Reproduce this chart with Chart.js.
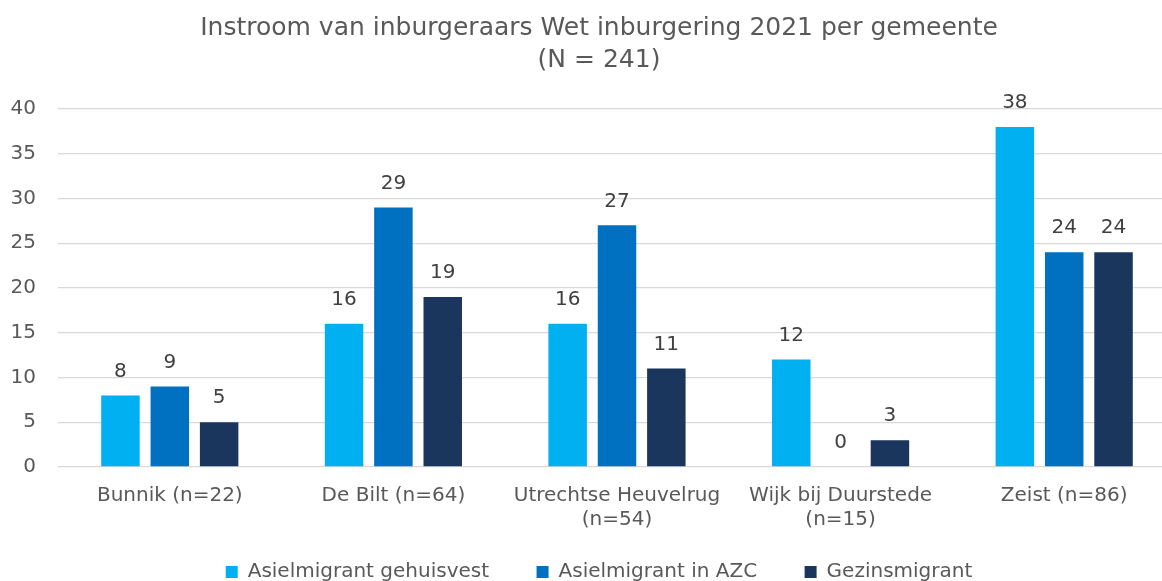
<!DOCTYPE html>
<html>
<head>
<meta charset="utf-8">
<script src="https://cdn.jsdelivr.net/npm/chart.js@4/dist/chart.umd.min.js"></script>
<style>
  html, body { margin: 0; padding: 0; background: #fff; }
  #wrap { width: 1162px; height: 581px; }
</style>
</head>
<body>
<div id="wrap"><canvas id="inburgeringChart"></canvas></div>
<script>
// Instroom inburgeraars per gemeente
var gemeenten = [
    "Bunnik (n=22)",
    "De Bilt (n=64)",
    ["Utrechtse Heuvelrug", "(n=54)"],
    ["Wijk bij Duurstede", "(n=15)"],
    "Zeist (n=86)"
];
var gehuisvest = [8, 16, 16, 12, 38];
var inAzc = [9, 29, 27, 0, 24];
var gezins = [5, 19, 11, 3, 24];
var yTicks = [0, 5, 10, 15, 20, 25, 30, 35, 40];

var fontFam = "Verdana, 'DejaVu Sans', sans-serif";

// values above the bars
var valueLabels = {
    id: 'valueLabels',
    afterDatasetsDraw: function(chart) {
        var ctx = chart.ctx;
        ctx.save();
        ctx.font = '20px ' + fontFam;
        ctx.fillStyle = '#404040';
        ctx.textAlign = 'center';
        ctx.textBaseline = 'bottom';
        chart.data.datasets.forEach(function(ds, i) {
            chart.getDatasetMeta(i).data.forEach(function(bar, j) {
                ctx.fillText(ds.data[j], bar.x, bar.y - 14);
            });
        });
        ctx.restore();
    }
};

// original plot runs a bit past the right edge, and its legend sits lower
var layoutTweak = {
    id: 'layoutTweak',
    afterLayout: function(chart) {
        var plotRight = 1176;
        var x = chart.scales.x;
        x.right = plotRight;
        x.width = x.right - x.left;
        x.configure();
        chart.chartArea.right = plotRight;
        chart.chartArea.width = plotRight - chart.chartArea.left;
        if (chart.legend) {
            chart.legend.top += 18;
            chart.legend.bottom += 18;
        }
    }
};

new Chart("inburgeringChart", {
    type: "bar",
    data: {
        labels: gemeenten,
        datasets: [{
            label: "Asielmigrant gehuisvest",
            data: gehuisvest,
            backgroundColor: "#00B0F0"
        }, {
            label: "Asielmigrant in AZC",
            data: inAzc,
            backgroundColor: "#0070C0"
        }, {
            label: "Gezinsmigrant",
            data: gezins,
            backgroundColor: "#1A365D"
        }]
    },
    options: {
        responsive: true,
        maintainAspectRatio: false,
        animation: false,
        categoryPercentage: 0.662,
        barPercentage: 0.78,
        layout: { padding: { left: 10, right: -26, top: 0, bottom: 7 } },
        plugins: {
            title: {
                display: true,
                text: ["Instroom van inburgeraars Wet inburgering 2021 per gemeente", "(N = 241)"],
                color: '#595959',
                font: { family: fontFam, size: 25, weight: 'normal', lineHeight: 1.28 },
                padding: { top: 12, bottom: 33 }
            },
            legend: {
                position: 'bottom',
                labels: {
                    color: '#595959',
                    font: { family: fontFam, size: 20 },
                    boxWidth: 12,
                    boxHeight: 12,
                    padding: 3,
                    generateLabels: function(chart) {
                        var items = Chart.defaults.plugins.legend.labels.generateLabels(chart);
                        items.forEach(function(it, k) {
                            it.lineWidth = 0;
                            if (k < items.length - 1) it.text = it.text + '       ';
                        });
                        return items;
                    }
                }
            },
            tooltip: { enabled: false }
        },
        scales: {
            x: {
                grid: { display: false },
                border: { display: false },
                ticks: {
                    color: '#595959',
                    font: { family: fontFam, size: 20 },
                    maxRotation: 0,
                    autoSkip: false,
                    padding: 9
                }
            },
            y: {
                min: 0,
                max: 40,
                afterBuildTicks: function(axis) {
                    axis.ticks = yTicks.map(function(v) { return { value: v }; });
                },
                afterFit: function(axis) {
                    axis.width = 48;
                },
                grid: { color: '#d9d9d9', lineWidth: 1.3, drawTicks: false },
                border: { display: false },
                ticks: {
                    color: '#595959',
                    font: { family: fontFam, size: 20 },
                    padding: 22
                }
            }
        }
    },
    plugins: [valueLabels, layoutTweak]
});
</script>
</body>
</html>
